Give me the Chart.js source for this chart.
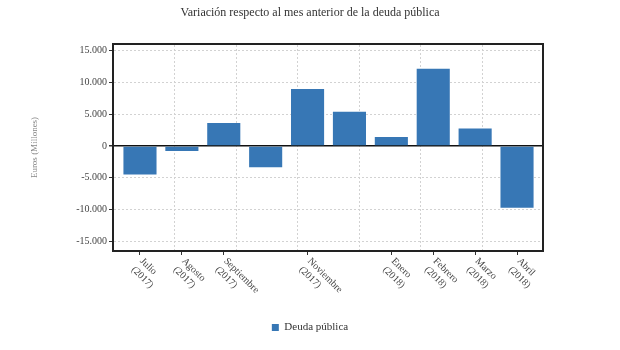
<!DOCTYPE html>
<html>
<head>
<meta charset="utf-8">
<script src="https://cdn.jsdelivr.net/npm/chart.js@4/dist/chart.umd.min.js"></script>
<style>
  html, body { margin: 0; padding: 0; background: #fff; }
  #wrap { width: 620px; height: 350px; }
</style>
</head>
<body>
<div id="wrap"><canvas id="debtChart"></canvas></div>
<script>
// Months shown (Octubre and Diciembre have no label in the original)
const months = ["Julio", "Agosto", "Septiembre", "Octubre", "Noviembre", "Diciembre", "Enero", "Febrero", "Marzo", "Abril"];
const years = ["(2017)", "(2017)", "(2017)", "(2017)", "(2017)", "(2017)", "(2018)", "(2018)", "(2018)", "(2018)"];
const labelledMonths = [0, 1, 2, 4, 6, 7, 8, 9];

// Monthly change of public debt, millions of euros
const variation = [-4500, -800, 3600, -3350, 8950, 5350, 1400, 12100, 2750, -9700];

const yTicks = [-15000, -10000, -5000, 0, 5000, 10000, 15000];

const SERIF = '"Liberation Serif", "DejaVu Serif", serif';
const BAR_BLUE = "#3777b5";
const FRAME = "#222";

Chart.defaults.font.family = SERIF;
Chart.defaults.color = "#444";

// format 15000 -> 15.000
function fmt(v) {
    let s = Math.abs(v).toString().replace(/\B(?=(\d{3})+(?!\d))/g, ".");
    return (v < 0 ? "-" : "") + s;
}

// x labels go down-right from the tick, which Chart.js rotation can't do
const slantedLabels = {
    id: "slantedLabels",
    afterDraw(chart) {
        let scale = chart.scales.x;
        let ctx = chart.ctx;
        ctx.save();
        ctx.font = "10px " + SERIF;
        ctx.fillStyle = "#444";
        ctx.textAlign = "left";
        ctx.textBaseline = "top";
        scale.ticks.forEach(t => {
            let px = scale.getPixelForValue(t.value);
            ctx.save();
            ctx.translate(px + 5, scale.top + 5);
            ctx.rotate(Math.PI / 4);
            ctx.fillText(months[t.value], 0, 0);
            ctx.fillText(years[t.value], 0, 12);
            ctx.restore();
        });
        ctx.restore();
    }
};

let ctx = document.getElementById("debtChart").getContext("2d");
let debtChart = new Chart(ctx, {
    type: "bar",
    data: {
        datasets: [{
            label: "Deuda pública",
            data: variation.map((v, i) => ({ x: i, y: v })),
            backgroundColor: BAR_BLUE,
            borderWidth: 0,
            categoryPercentage: 1,
            barPercentage: 0.79
        }]
    },
    options: {
        responsive: true,
        maintainAspectRatio: false,
        animation: false,
        layout: { padding: { left: 0, right: 0, top: 0, bottom: 7 } },
        plugins: {
            title: {
                display: true,
                text: "Variación respecto al mes anterior de la deuda pública",
                color: "#333",
                font: { size: 12, weight: "normal", family: SERIF },
                padding: { top: 6, bottom: 23.6 }
            },
            legend: {
                position: "bottom",
                labels: {
                    color: "#333",
                    boxWidth: 7,
                    boxHeight: 7,
                    font: { size: 11, family: SERIF }
                }
            },
            tooltip: { enabled: false }
        },
        scales: {
            x: {
                type: "linear",
                position: "bottom",
                offset: false,
                min: -0.644,
                max: 9.62,
                afterBuildTicks: scale => {
                    scale.ticks = labelledMonths.map(v => ({ value: v }));
                },
                afterFit: scale => { scale.height = 61; },
                ticks: { display: false },
                grid: { offset: false, drawOnChartArea: false, drawTicks: true, tickLength: 4, tickColor: "#333" },
                border: { display: true, color: FRAME, width: 2 }
            },
            xGrid: {
                type: "linear",
                position: "top",
                offset: false,
                min: -0.008,
                max: 6.984,
                afterFit: scale => { scale.height = 0; },
                ticks: { display: false, stepSize: 1, includeBounds: false },
                grid: { offset: false, color: "#d2d2d2", lineWidth: 1, drawTicks: false },
                border: { display: true, color: FRAME, width: 2, dash: [2, 2] }
            },
            y: {
                position: "left",
                min: -16500,
                max: 16000,
                afterBuildTicks: scale => {
                    scale.ticks = yTicks.map(v => ({ value: v }));
                },
                afterFit: scale => { scale.width = 113; },
                ticks: {
                    color: "#444",
                    font: { size: 10, family: SERIF },
                    padding: 2,
                    callback: v => fmt(v)
                },
                grid: {
                    color: c => (c.tick && c.tick.value === 0) ? "#111" : "#d2d2d2",
                    lineWidth: c => (c.tick && c.tick.value === 0) ? 1.5 : 1,
                    tickLength: 4,
                    tickColor: "#333"
                },
                border: {
                    display: true,
                    color: FRAME,
                    width: 2,
                    dash: c => (c.tick && c.tick.value === 0) ? [] : [2, 2]
                },
                title: {
                    display: true,
                    text: "Euros (Millones)",
                    color: "#888",
                    font: { size: 9, family: SERIF },
                    padding: { top: 29, bottom: 0 }
                }
            },
            yFrame: {
                position: "right",
                afterFit: scale => { scale.width = 77; },
                ticks: { display: false },
                grid: { drawOnChartArea: false, drawTicks: false },
                border: { display: true, color: FRAME, width: 2 }
            }
        }
    },
    plugins: [slantedLabels]
});
</script>
</body>
</html>
